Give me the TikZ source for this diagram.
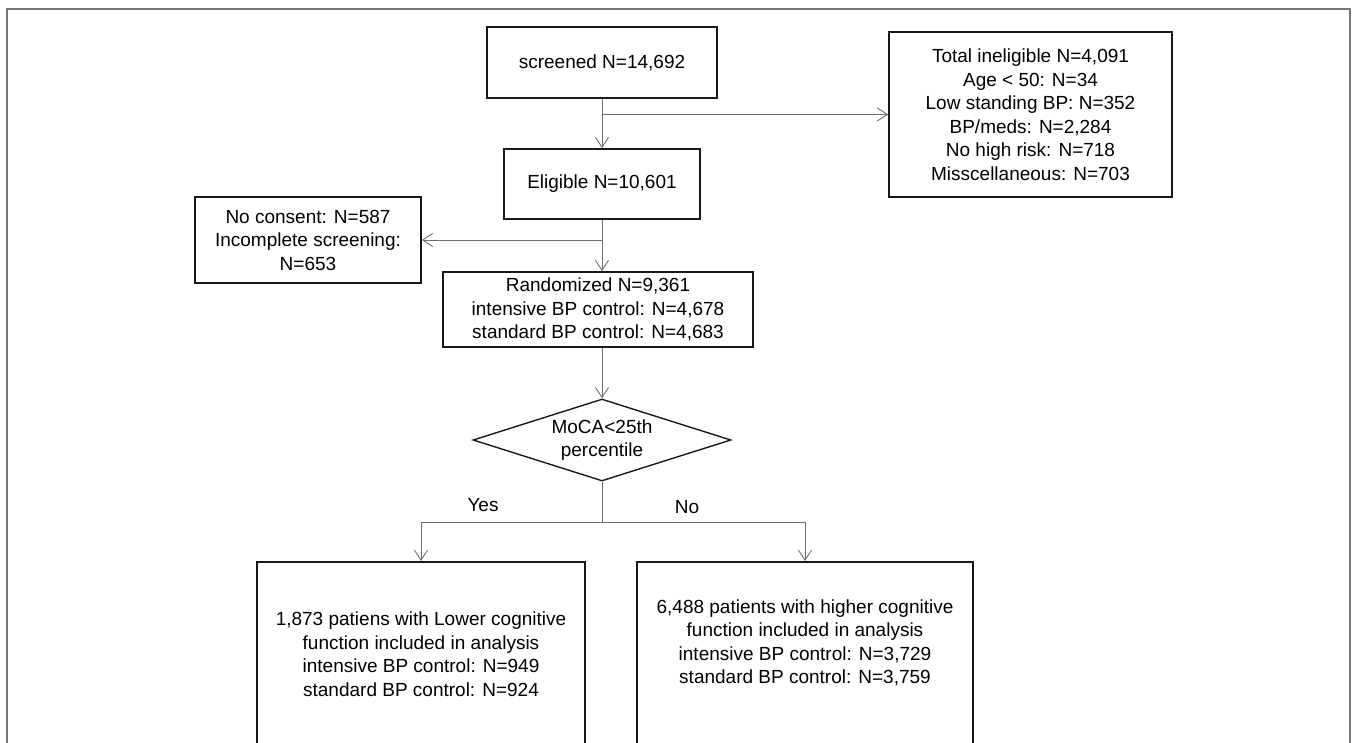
\documentclass[tikz,border=0pt]{standalone}
\usepackage{fontspec}
\setmainfont{Liberation Sans}
\usepackage{tikz}
\usetikzlibrary{shapes.geometric, arrows.meta, positioning, calc}

\definecolor{linegray}{HTML}{6E6E6E}
\definecolor{framegray}{HTML}{777777}
\newcommand{\boxfont}{\fontsize{19}{23.5}\selectfont}

\tikzstyle{flowbox} = [
  rectangle, draw=black!90, line width=1.7pt,
  align=center, inner sep=0pt, font=\boxfont
]
\tikzstyle{decision} = [
  diamond, draw=black!90, line width=1.4pt, aspect=3.15,
  align=center, inner sep=0pt, font=\boxfont
]
\tikzstyle{bodytext} = [align=center, inner sep=0pt, font=\boxfont]
\tikzstyle{arrow} = [-{Straight Barb[length=10pt, width=13pt]}, linegray, line width=0.9pt]
\tikzstyle{link} = [linegray, line width=0.9pt]

\begin{document}
\begin{tikzpicture}[x=1pt, y=-1pt]

  \clip (0,0) rectangle (1358,742);
  \draw[framegray, line width=1.6pt] (7,9) rectangle (1350,770);

  % Boxes
  \node[flowbox, minimum width=230pt, minimum height=71pt] (screened) at (602,62.5) {screened N=14,692};
  \node[flowbox, minimum width=283pt, minimum height=165pt] (inelig) at (1030.5,114.5)
    {Total ineligible N=4,091\\Age < 50: N=34\\Low standing BP: N=352\\BP/meds: N=2,284\\No high risk: N=718\\Misscellaneous: N=703};
  \node[flowbox, minimum width=196pt, minimum height=70pt] (eligible) at (602,184) {Eligible N=10,601};
  \node[flowbox, minimum width=226pt, minimum height=86pt] (noconsent) at (308,240)
    {No consent: N=587\\Incomplete screening:\\N=653};
  \node[flowbox, minimum width=310pt, minimum height=75pt] (random) at (598,309.5)
    {Randomized N=9,361\\intensive BP control: N=4,678\\standard BP control: N=4,683};
  \node[decision, minimum width=258pt, minimum height=82pt] (moca) at (602,440) {MoCA<25th\\percentile};

  % Result boxes (run past the bottom edge)
  \node[flowbox, minimum width=328pt, minimum height=200pt, anchor=north] (lowbox) at (421,561) {};
  \node[flowbox, minimum width=336pt, minimum height=200pt, anchor=north] (highbox) at (805,561) {};
  \node[bodytext] (lowtext) at (421,654)
    {1,873 patiens with Lower cognitive\\function included in analysis\\intensive BP control: N=949\\standard BP control: N=924};
  \node[bodytext] (hightext) at (805,643)
    {6,488 patients with higher cognitive\\function included in analysis\\intensive BP control: N=3,729\\standard BP control: N=3,759};

  % Connectors
  \coordinate (split1) at (screened.south |- inelig.west);
  \coordinate (split2) at (eligible.south |- noconsent.east);
  \coordinate (fork) at ($(moca.south)+(0,41)$);

  \draw[arrow] (screened.south) -- (eligible.north);
  \draw[arrow] (split1) -- (inelig.west);
  \draw[arrow] (eligible.south) -- (random.north -| eligible.south);
  \draw[arrow] (split2) -- (noconsent.east);
  \draw[arrow] (random.south -| moca.north) -- (moca.north);
  \draw[link] (moca.south) -- (fork);
  \draw[arrow] (fork) -| (lowbox.north);
  \draw[arrow] (fork) -| (highbox.north);

  % Branch labels
  \node[bodytext] (yes) at (483,505) {Yes};
  \node[bodytext] (no) at (687,507) {No};

\end{tikzpicture}
\end{document}
